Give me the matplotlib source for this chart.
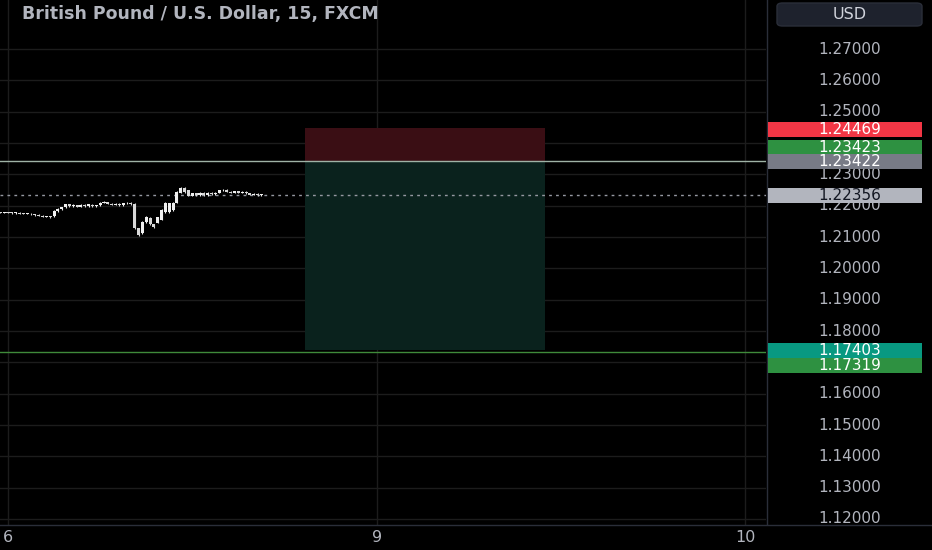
import matplotlib
matplotlib.use("Agg")
import matplotlib.pyplot as plt
from matplotlib.patches import Rectangle, FancyBboxPatch

# ---------------- data ----------------
bar_index = list(range(-2, 67))
opens = [1.2179, 1.2178, 1.2179, 1.2178, 1.2177, 1.2178, 1.2175, 1.2174, 1.2175, 1.2172,
         1.2170, 1.2168, 1.2165, 1.2166, 1.2166, 1.2183, 1.2189, 1.2195, 1.2204, 1.2198,
         1.2201, 1.2197, 1.2203, 1.2199, 1.2203, 1.2199, 1.2201, 1.2210, 1.2211, 1.2207,
         1.2203, 1.2206, 1.2201, 1.2208, 1.2210, 1.2206, 1.2128, 1.2113, 1.2148, 1.2161,
         1.2140, 1.2146, 1.2155, 1.2180, 1.2180, 1.2185, 1.2210, 1.2242, 1.2258, 1.2249,
         1.2232, 1.2240, 1.2233, 1.2241, 1.2234, 1.2242, 1.2236, 1.2241, 1.2249, 1.2251,
         1.2245, 1.2242, 1.2246, 1.2241, 1.2245, 1.2239, 1.2235, 1.2237, 1.2234]
closes = [1.2178, 1.2179, 1.2178, 1.2177, 1.2178, 1.2175, 1.2174, 1.2175, 1.2172, 1.2170,
          1.2168, 1.2165, 1.2166, 1.2164, 1.2184, 1.2190, 1.2195, 1.2205, 1.2198, 1.2202,
          1.2197, 1.2203, 1.2199, 1.2204, 1.2199, 1.2201, 1.2210, 1.2212, 1.2207, 1.2203,
          1.2206, 1.2201, 1.2208, 1.2210, 1.2205, 1.2129, 1.2108, 1.2148, 1.2163, 1.2140,
          1.2132, 1.2163, 1.2186, 1.2209, 1.2208, 1.2210, 1.2244, 1.2258, 1.2244, 1.2232,
          1.2240, 1.2233, 1.2241, 1.2234, 1.2242, 1.2236, 1.2241, 1.2249, 1.2251, 1.2245,
          1.2242, 1.2246, 1.2241, 1.2245, 1.2239, 1.2235, 1.2237, 1.2234, 1.2236]
highs = [1.2181, 1.2181, 1.2180, 1.2180, 1.2179, 1.2179, 1.2177, 1.2176, 1.2176, 1.2174,
         1.2172, 1.2170, 1.2167, 1.2168, 1.2186, 1.2192, 1.2197, 1.2207, 1.2206, 1.2204,
         1.2203, 1.2205, 1.2205, 1.2206, 1.2205, 1.2203, 1.2212, 1.2214, 1.2213, 1.2209,
         1.2208, 1.2208, 1.2210, 1.2212, 1.2212, 1.2208, 1.2130, 1.2150, 1.2166, 1.2163,
         1.2142, 1.2165, 1.2188, 1.2211, 1.2210, 1.2212, 1.2246, 1.2260, 1.2260, 1.2251,
         1.2242, 1.2242, 1.2243, 1.2243, 1.2244, 1.2244, 1.2243, 1.2251, 1.2253, 1.2253,
         1.2247, 1.2248, 1.2248, 1.2247, 1.2247, 1.2241, 1.2239, 1.2239, 1.2238]
lows = [1.2176, 1.2176, 1.2176, 1.2175, 1.2175, 1.2173, 1.2172, 1.2172, 1.2170, 1.2168,
        1.2166, 1.2163, 1.2163, 1.2162, 1.2164, 1.2181, 1.2187, 1.2193, 1.2196, 1.2196,
        1.2195, 1.2195, 1.2197, 1.2197, 1.2197, 1.2197, 1.2199, 1.2208, 1.2205, 1.2201,
        1.2201, 1.2199, 1.2199, 1.2206, 1.2203, 1.2127, 1.2103, 1.2110, 1.2146, 1.2138,
        1.2130, 1.2144, 1.2153, 1.2178, 1.2178, 1.2183, 1.2208, 1.2240, 1.2242, 1.2230,
        1.2230, 1.2231, 1.2231, 1.2232, 1.2232, 1.2234, 1.2234, 1.2239, 1.2247, 1.2243,
        1.2240, 1.2240, 1.2239, 1.2239, 1.2237, 1.2233, 1.2233, 1.2232, 1.2232]

price_ticks = [1.12, 1.13, 1.14, 1.15, 1.16, 1.17, 1.18, 1.19, 1.20, 1.21,
               1.22, 1.23, 1.24, 1.25, 1.26, 1.27]
# tick labels fully covered by the price tags in the reference
covered_ticks = [1.17, 1.24]
day_ticks = [0, 96, 192]
day_labels = ["6", "9", "10"]

position_start, position_end = 77.3, 139.8
stop_price = 1.24469
entry_price = 1.23423
target_price = 1.17403
level_upper = 1.23422
level_lower = 1.17319
last_price = 1.22356

tag_values = [stop_price, entry_price, level_upper, last_price, target_price, level_lower]
tag_labels = ["1.24469", "1.23423", "1.23422", "1.22356", "1.17403", "1.17319"]
tag_faces = ["#f23645", "#2e9141", "#787b86", "#b2b5be", "#089981", "#2e9141"]
tag_texts = ["#ffffff", "#ffffff", "#ffffff", "#131722", "#ffffff", "#ffffff"]
title = "British Pound / U.S. Dollar, 15, FXCM"

# layout: tag centres in pixels from the top (tags are pushed apart when they collide)
tag_centre_px = [129.5, 147.0, 162.0, 195.5, 350.5, 365.5]

# ---------------- figure ----------------
W, H = 932, 550
fig = plt.figure(figsize=(W / 100, H / 100), dpi=100, facecolor="#000000")
ax = fig.add_axes([0, 25 / H, 766 / W, 1 - 25 / H])
ax.set_facecolor("#000000")

y_top, y_bot = 1.28566, 1.11808
ax.set_ylim(y_bot, y_top)
x_left, x_right = -2.08, 197.4
ax.set_xlim(x_left, x_right)

for s in ax.spines.values():
    s.set_visible(False)
ax.tick_params(left=False, bottom=False, labelleft=False, labelbottom=False)

grid_c = "#1c1c1c"
for p in price_ticks:
    ax.axhline(p, color=grid_c, lw=1, zorder=0)
for d in day_ticks:
    ax.axvline(d, color=grid_c, lw=1, zorder=0)

# position box
ax.add_patch(Rectangle((position_start, entry_price), position_end - position_start,
                       stop_price - entry_price, facecolor="#3a0e14", edgecolor="none", zorder=1))
ax.add_patch(Rectangle((position_start, target_price), position_end - position_start,
                       entry_price - target_price, facecolor="#0a221d", edgecolor="none", zorder=1))

# horizontal levels
ax.axhline(level_upper, color="#9fb3a6", lw=1, zorder=2)
ax.axhline(level_lower, color="#3f8a3a", lw=1, zorder=2)
ax.axhline(last_price, color="#9598a1", lw=1, ls=(0, (2, 3)), zorder=2)

# candles
for i, o, h, l, c in zip(bar_index, opens, highs, lows, closes):
    col = "#f0f0f0" if c >= o else "#d8d8d8"
    ax.vlines(i, l, h, color=col, lw=0.8, zorder=3)
    bot = min(o, c)
    hgt = max(abs(c - o), 0.00018)
    ax.add_patch(Rectangle((i - 0.4, bot), 0.8, hgt, facecolor=col, edgecolor="none", zorder=4))

# title
ax.text(22 / 766, 1 - 14 / 525, title, transform=ax.transAxes, color="#b2b5be",
        fontsize=12.5, fontweight="bold", va="center", ha="left", family="DejaVu Sans")

# ---------------- price axis ----------------
pax = fig.add_axes([766 / W, 25 / H, 1 - 766 / W, 1 - 25 / H], sharey=ax)
pax.set_facecolor("#000000")
pax.set_xlim(0, 1)
for s in pax.spines.values():
    s.set_visible(False)
pax.tick_params(left=False, bottom=False, labelleft=False, labelbottom=False)
pax.axvline(0.005, color="#2a2e39", lw=1)

cx = (850 - 766) / (W - 766)
for p in price_ticks:
    if p in covered_ticks:
        continue
    pax.text(cx, p, f"{p:.5f}", color="#b2b5be", fontsize=11, ha="center", va="center",
             family="DejaVu Sans", zorder=1)

box_x0 = (768 - 766) / (W - 766)
box_x1 = (922 - 766) / (W - 766)
ax_h_px = H - 25
for cpx, lab, fc, tc in zip(tag_centre_px, tag_labels, tag_faces, tag_texts):
    yc = 1 - cpx / ax_h_px  # axes fraction
    pax.add_patch(Rectangle((box_x0, yc - 7.5 / ax_h_px), box_x1 - box_x0, 15 / ax_h_px,
                            transform=pax.transAxes, facecolor=fc, edgecolor="none", zorder=3))
    pax.text(cx, yc, lab, transform=pax.transAxes, color=tc, fontsize=11,
             ha="center", va="center", zorder=4, family="DejaVu Sans")

# USD button
usd = FancyBboxPatch((777 / W, 1 - 26 / H), (922 - 777) / W, 23 / H,
                     boxstyle="round,pad=0,rounding_size=0.006",
                     transform=fig.transFigure, facecolor="#1e222d",
                     edgecolor="#2a2e39", lw=1, zorder=5)
fig.patches.append(usd)
fig.text(850 / W, 1 - 14.5 / H, "USD", color="#d1d4dc", fontsize=11.5,
         ha="center", va="center", zorder=6)

# ---------------- time axis ----------------
fig.add_artist(plt.Line2D([0, 1], [25 / H, 25 / H], transform=fig.transFigure,
                          color="#2a2e39", lw=1))
for d, lab in zip(day_ticks, day_labels):
    xf = (d - x_left) / (x_right - x_left) * (766 / W)
    fig.text(xf, 12 / H, lab, color="#b2b5be", fontsize=11.5, ha="center", va="center")

fig.savefig("out.png", dpi=100, facecolor="#000000")
